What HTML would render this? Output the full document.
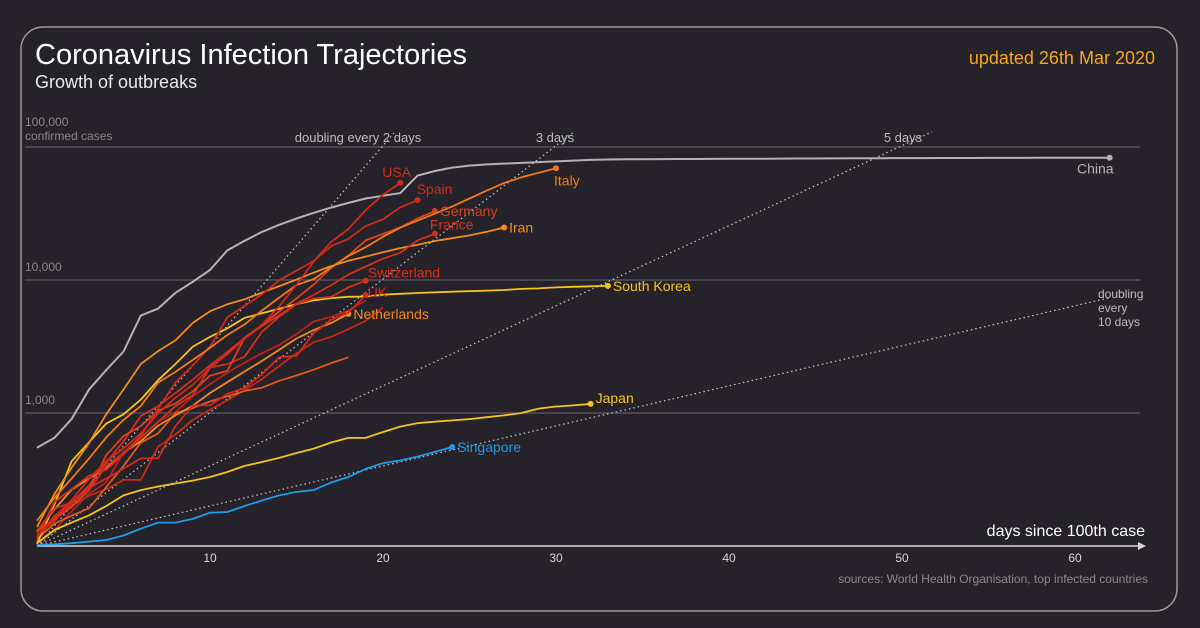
<!DOCTYPE html>
<html><head><meta charset="utf-8">
<style>
html,body{margin:0;padding:0;background:#262229;width:1200px;height:628px;overflow:hidden;font-family:"Liberation Sans",sans-serif}
svg{display:block}
</style></head>
<body>
<svg id="chart" width="1200" height="628">
<rect x="21" y="27" width="1156" height="584" rx="22" fill="none" stroke="#9a979c" stroke-width="1.5"/>
<text x="35" y="64" fill="#ffffff" font-size="29">Coronavirus Infection Trajectories</text>
<text x="35" y="88" fill="#e8e8e8" font-size="18">Growth of outbreaks</text>
<text x="1155" y="64" fill="#f5a623" font-size="18" text-anchor="end">updated 26th Mar 2020</text>
<g id="grid"></g>
<g id="doubling"></g>
<g id="series"></g>
<g id="labels"></g>
<text x="1145" y="536" fill="#ffffff" font-size="16" text-anchor="end">days since 100th case</text>
<text x="1148" y="583" fill="#8a878c" font-size="12" text-anchor="end">sources: World Health Organisation, top infected countries</text>
</svg>
<script>
const xTicks = [10, 20, 30, 40, 50, 60];
const yTicks = [1000, 10000, 100000];
const yTickLabels = ["1,000", "10,000", "100,000"];
const doublingDays = [2, 3, 5, 10];
const countryNames = ["China","Italy","USA","Spain","Germany","France","Iran","Switzerland","UK","Netherlands","South Korea","Japan","Singapore","Austria","Belgium","Norway"];
const chinaValues = [548,650,900,1500,2100,2900,5400,6100,8000,9700,11900,16700,19700,23000,26000,29000,32000,35000,38000,41000,43000,45000,61000,66000,70000,72500,74000,75000,76000,77000,78000,79000,80000,80500,80800,81000,81100,81200,81300,81400,81500,81600,81700,81800,81900,82000,82100,82200,82300,82400,82500,82550,82600,82650,82700,82750,82800,82850,82900,82950,83000,83050,83100];
const italyValues = [155,229,322,453,655,888,1128,1694,2036,2502,3089,3858,4636,5883,7375,9172,10149,12462,15113,17660,21157,24747,27980,31506,35713,41035,47021,53578,59138,63927,69176];
const usaValues = [122,153,221,319,435,541,704,994,1301,1630,2183,2770,3613,4596,6344,9197,13779,19367,24192,33592,43781,53740];
const spainValues = [120,165,222,259,400,500,673,1073,1695,2277,3146,5232,6391,7798,9942,11748,13910,17963,20410,25374,28603,35136,39885];
const germanyValues = [130,159,196,262,482,670,799,1040,1176,1457,1908,2078,3675,4585,5795,7272,9257,12327,15320,19848,22213,24873,29056,32986];
const franceValues = [130,191,212,285,423,613,949,1126,1412,1784,2281,2876,3661,4499,5423,6633,7730,9134,10995,12612,14459,16018,19856,22302];
const iranValues = [139,245,388,593,978,1501,2336,2922,3513,4747,5823,6566,7161,8042,9000,10075,11364,12729,13938,14991,16169,17361,18407,19644,20610,21638,23049,24811];
const switzerlandValues = [114,214,268,337,374,491,652,858,1125,1359,2200,2330,2650,4075,5294,6575,7245,7474,8795,9877];
const ukValues = [116,164,207,273,321,382,456,456,798,1140,1140,1391,1543,1950,2626,2689,3983,5018,5683,7700];
const netherlandsValues = [128,188,265,321,382,503,614,804,959,1135,1413,1705,2051,2460,2994,3631,4204,4749,5560];
const koreaValues = [104,204,433,602,833,977,1261,1766,2337,3150,3736,4335,5186,5621,6088,6593,7041,7313,7478,7513,7755,7869,7979,8086,8162,8236,8320,8413,8565,8652,8799,8897,8961,9037];
const japanValues = [105,132,150,170,200,240,263,280,295,310,330,360,400,428,460,500,540,600,650,650,720,790,840,860,880,900,930,960,1000,1080,1120,1140,1170];
const singaporeValues = [102,103,105,108,111,120,135,150,150,160,178,180,200,220,240,255,263,300,330,380,420,440,470,510,555];
const austriaValues = [104,131,182,246,302,504,655,860,1016,1332,1646,2013,2388,2814,3244,3924,4876,5282,5888,7029];
const belgiumValues = [109,169,200,239,267,314,314,559,689,886,1058,1243,1486,1795,2257,2815,3401,3743,4269,4937,6235];
const norwayValues = [113,147,169,192,277,400,598,702,996,1090,1221,1333,1463,1550,1746,1914,2118,2371,2621];
const allValues = [chinaValues,italyValues,usaValues,spainValues,germanyValues,franceValues,iranValues,switzerlandValues,ukValues,netherlandsValues,koreaValues,japanValues,singaporeValues,austriaValues,belgiumValues,norwayValues];
const colors = ["#b4b2b6","#f07a1a","#d4281c","#cc2a1c","#e0401a","#d0301c","#f08c1c","#d4301c","#d4281c","#f08a20","#f5c518","#f5c518","#1e9be8","#b8221a","#c4281a","#e05a1a"];
const labelNames = ["China","Italy","USA","Spain","Germany","France","Iran","Switzerland","UK","Netherlands","South Korea","Japan","Singapore"];
const labelColors = ["#b4b2b6","#f07a1a","#d4281c","#cc2a1c","#e0401a","#d0301c","#f08c1c","#d4301c","#d4281c","#f08a20","#f5c518","#f5c518","#1e9be8"];

const X0 = 37, PXDAY = 17.3, Y100 = 546, PXDEC = 133;
const xs = d => X0 + d * PXDAY;
const ys = v => Y100 - (Math.log10(v) - 2) * PXDEC;
const NS = "http://www.w3.org/2000/svg";
function mk(tag, attrs, parent) { const e = document.createElementNS(NS, tag); for (const k in attrs) e.setAttribute(k, attrs[k]); parent.appendChild(e); return e; }

const grid = document.getElementById('grid');
yTicks.forEach((v, i) => {
  const l = mk('line', {x1: 25, x2: 1140, y1: ys(v), y2: ys(v), stroke: '#5c5960', 'stroke-width': 1.3}, grid);
  
  
  const t = mk('text', {x: 25, y: v === 100000 ? ys(v) - 21 : ys(v) - 9, fill: '#8a878c', 'font-size': 12}, grid);
  t.textContent = yTickLabels[i];
  
  
});
const cc = mk('text', {x: 25, y: ys(100000) - 7, fill: '#8a878c', 'font-size': 12}, grid);
cc.textContent = 'confirmed cases';


const ax = mk('line', {x1: 37, x2: 1140, y1: Y100, y2: Y100, stroke: '#d8d6da', 'stroke-width': 1.5}, grid);


const ar = mk('path', {d: 'M1146 546 L1138 542 L1138 550 Z', fill: '#d8d6da'}, grid);


xTicks.forEach(d => {
  const t = mk('text', {x: xs(d), y: 562, fill: '#d8d6da', 'font-size': 12, 'text-anchor': 'middle'}, grid);
  t.textContent = d;
  
  
});

const dbl = document.getElementById('doubling');
doublingDays.forEach(k => {
  const maxV = 130000;
  let dEnd = k * Math.log2(maxV / 100);
  dEnd = Math.min(dEnd, 62);
  const vEnd = 100 * Math.pow(2, dEnd / k);
  const l = mk('line', {x1: xs(0), y1: ys(100), x2: xs(dEnd), y2: ys(vEnd), stroke: '#bdbbc0', 'stroke-width': 1.3, 'stroke-dasharray': '1.5 3'}, dbl);
  
  
});
[["doubling every 2 days", 358, 142], ["3 days", 555, 142], ["5 days", 903, 142]].forEach(a => {
  const t = mk('text', {x: a[1], y: a[2], fill: '#bdbbc0', 'font-size': 13, 'text-anchor': 'middle'}, dbl);
  t.textContent = a[0];
  
  
});
["doubling", "every", "10 days"].forEach((s, i) => {
  const t = mk('text', {x: 1098, y: 298 + i * 14, fill: '#bdbbc0', 'font-size': 12}, dbl);
  t.textContent = s;
  
  
});

const ser = document.getElementById('series');
const order = [13,14,15,0,12,11,10,9,8,7,6,5,4,3,1,2];
order.forEach(i => {
  const vals = allValues[i];
  const pts = vals.map((v, d) => xs(d).toFixed(1) + ',' + ys(v).toFixed(1)).join(' ');
  const p = mk('polyline', {points: pts, fill: 'none', stroke: colors[i], 'stroke-width': i === 0 ? 2 : 1.8, 'stroke-linejoin': 'round'}, ser);
  
  
  if (i < 13) {
    const last = vals.length - 1;
    const c = mk('circle', {cx: xs(last), cy: ys(vals[last]), r: 3, fill: colors[i]}, ser);
    
    
  }
});

const lab = document.getElementById('labels');
const labelOffsets = {China:[-36,16,'end'],Italy:[-2,17,'start'],USA:[-18,-6,'start'],Spain:[-1,-6,'start'],Germany:[5,5,'start'],France:[-5,-4,'start'],Iran:[5,5,'start'],Switzerland:[2,-3,'start'],UK:[2,2,'start'],Netherlands:[5,5,'start'],"South Korea":[5,5,'start'],Japan:[5,-1,'start'],Singapore:[5,5,'start']};
labelNames.forEach((n, i) => {
  const vals = allValues[i];
  const last = vals.length - 1;
  const o = labelOffsets[n];
  const x = n === 'China' ? xs(last) + 4 : xs(last) + o[0];
  const t = mk('text', {x: x, y: ys(vals[last]) + o[1], fill: labelColors[i], 'font-size': 14, 'text-anchor': o[2]}, lab);
  t.textContent = n;
  
  
});
</script>
</body></html>
